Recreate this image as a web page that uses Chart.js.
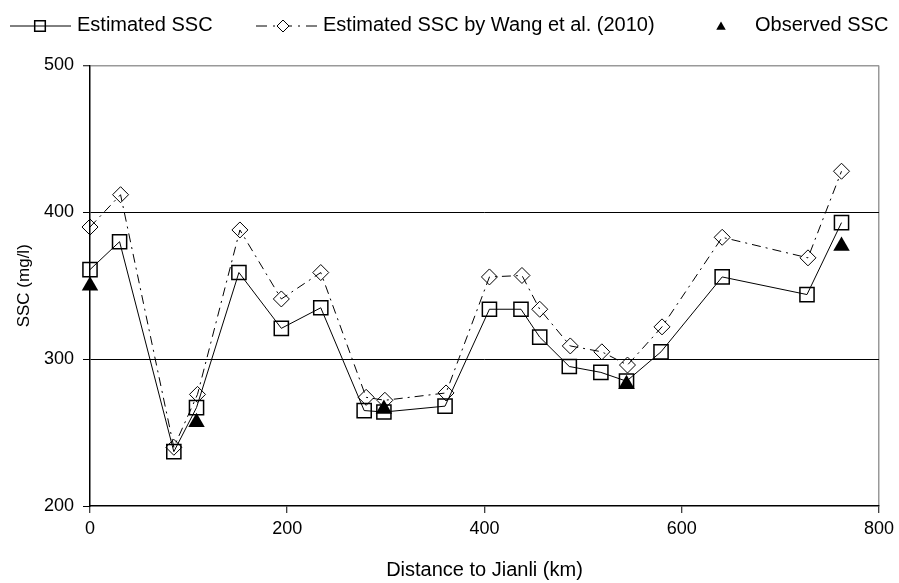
<!DOCTYPE html>
<html>
<head>
<meta charset="utf-8">
<script src="https://cdn.jsdelivr.net/npm/chart.js@4/dist/chart.umd.min.js"></script>
<style>
  body { margin: 0; background: #fff; }
</style>
</head>
<body>
<canvas id="chart1" width="899" height="583"></canvas>
<script>
// distance to Jianli (km) and SSC (mg/l)
const distEst = [0, 30, 85, 108, 151, 194, 234, 278, 298, 360, 405, 437, 456, 486, 518, 544, 579, 641, 727, 762];
const sscEst = [361, 380, 237, 267, 359, 321, 335, 265, 264, 268, 334, 334, 315, 295, 291, 285, 305, 356, 344, 393];

const distWang = [0, 31, 85, 109, 152, 194, 234, 280, 299, 361, 405, 438, 456, 487, 519, 545, 580, 641, 728, 762];
const sscWang = [390, 412, 240, 276, 388, 341, 359, 274, 272, 277, 356, 357, 334, 309, 305, 296, 322, 383, 369, 428];

const distObs = [0, 108, 298, 544, 762];
const sscObs = [350, 257, 266, 283, 377];

const seriesLabels = ["Estimated SSC", "Estimated SSC by Wang et al. (2010)", "Observed SSC"];

function toPoints(xs, ys) {
  return xs.map((x, i) => ({ x: x, y: ys[i] }));
}

const fontFamily = '"Liberation Sans", Arial, sans-serif';

// legend drawn by hand: line + marker combos like the original
const legendPlugin = {
  id: 'sscLegend',
  afterDraw(chart) {
    const ctx = chart.ctx;
    const y = 26;
    ctx.save();
    ctx.strokeStyle = '#000';
    ctx.lineWidth = 1;

    // Estimated SSC
    ctx.beginPath();
    ctx.moveTo(10, y); ctx.lineTo(71, y);
    ctx.stroke();
    ctx.fillStyle = 'rgba(0,0,0,0)';
    ctx.lineWidth = 1.5;
    Chart.helpers.drawPoint(ctx, { pointStyle: 'rect', radius: 7.5, borderWidth: 1.5, rotation: 0 }, 40, y);

    // Wang et al.
    ctx.lineWidth = 1;
    ctx.setLineDash([11, 6, 2, 6]);
    ctx.beginPath();
    ctx.moveTo(256, y); ctx.lineTo(318, y);
    ctx.stroke();
    ctx.setLineDash([]);
    ctx.fillStyle = '#fff';
    Chart.helpers.drawPoint(ctx, { pointStyle: 'rectRot', radius: 6, borderWidth: 1, rotation: 0 }, 283, y);

    // Observed
    ctx.fillStyle = '#000';
    Chart.helpers.drawPoint(ctx, { pointStyle: 'triangle', radius: 5.5, borderWidth: 0, rotation: 0 }, 721, y + 1);

    ctx.font = '20px ' + fontFamily;
    ctx.fillStyle = '#000';
    ctx.textBaseline = 'middle';
    ctx.fillText(seriesLabels[0], 77, y - 1);
    ctx.fillText(seriesLabels[1], 323, y - 1);
    ctx.fillText(seriesLabels[2], 755, y - 1);
    ctx.restore();
  }
};

const data = {
  datasets: [
    {
      label: seriesLabels[0],
      data: toPoints(distEst, sscEst),
      borderColor: '#000',
      borderWidth: 1,
      backgroundColor: 'rgba(0,0,0,0)',
      pointStyle: 'rect',
      pointRadius: 10,
      pointBorderWidth: 1.5,
      pointBorderColor: '#000',
      pointBackgroundColor: 'rgba(0,0,0,0)',
      tension: 0,
      clip: false,
      order: 1,
    },
    {
      label: seriesLabels[1],
      data: toPoints(distWang, sscWang),
      borderColor: '#000',
      borderWidth: 1,
      borderDash: [9, 5, 2, 5],
      backgroundColor: 'rgba(0,0,0,0)',
      pointStyle: 'rectRot',
      pointRadius: 8,
      pointBorderWidth: 1,
      pointBorderColor: '#000',
      pointBackgroundColor: 'rgba(0,0,0,0)',
      tension: 0,
      clip: false,
      order: 2,
    },
    {
      label: seriesLabels[2],
      data: toPoints(distObs, sscObs),
      showLine: false,
      pointStyle: 'triangle',
      pointRadius: 9.5,
      pointBorderWidth: 0,
      pointBackgroundColor: '#000',
      pointBorderColor: '#000',
      clip: false,
      order: 0,
    },
  ]
};

const config = {
  type: 'line',
  data: data,
  options: {
    responsive: false,
    animation: false,
    layout: {
      padding: { left: 0, right: 19, top: 65.5, bottom: 0 },
    },
    plugins: {
      legend: { display: false },
      tooltip: { enabled: false },
    },
    scales: {
      x: {
        type: 'linear',
        min: 0,
        max: 800,
        afterFit: (scale) => { scale.height = 77; },
        title: {
          display: true,
          text: 'Distance to Jianli (km)',
          color: '#000',
          font: { family: fontFamily, size: 20 },
          padding: { top: 0, bottom: 1 },
        },
        ticks: {
          stepSize: 200,
          color: '#000',
          padding: 5,
          maxRotation: 0,
          font: { family: fontFamily, size: 18 },
        },
        grid: {
          color: (c) => (c.tick && c.tick.value === 800 ? '#999' : 'rgba(0,0,0,0)'),
          lineWidth: 1.5,
          tickColor: '#000',
          tickLength: 7,
          tickWidth: 1,
        },
        border: { color: '#000', width: 1.5 },
      },
      y: {
        min: 200,
        max: 500,
        afterFit: (scale) => { scale.width = 90; },
        title: {
          display: true,
          text: 'SSC (mg/l)',
          color: '#000',
          font: { family: fontFamily, size: 17 },
          padding: { top: 14, bottom: 0 },
        },
        ticks: {
          stepSize: 100,
          color: '#000',
          padding: 9,
          font: { family: fontFamily, size: 18 },
        },
        grid: {
          color: (c) => {
            if (!c.tick) return 'rgba(0,0,0,0)';
            if (c.tick.value === 500) return '#999';
            if (c.tick.value === 200) return 'rgba(0,0,0,0)';
            return '#000';
          },
          lineWidth: (c) => (c.tick && c.tick.value === 500 ? 1.5 : 1),
          tickColor: '#000',
          tickLength: 7,
          tickWidth: 1,
        },
        border: { color: '#000', width: 1.5 },
      },
    },
  },
  plugins: [legendPlugin],
};

const myChart1 = new Chart(document.getElementById('chart1'), config);
</script>
</body>
</html>
